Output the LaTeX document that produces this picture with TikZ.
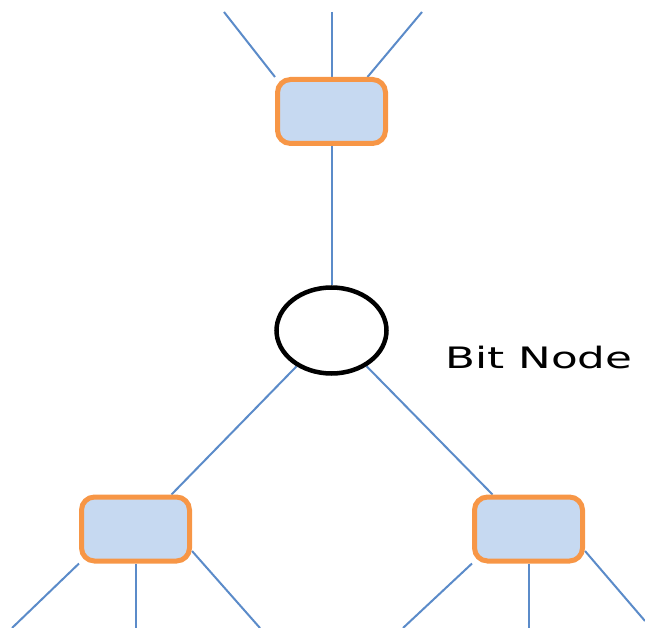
\documentclass[tikz,border=0pt]{standalone}
\usepackage{fontspec}
\setsansfont{DejaVu Sans}
\usetikzlibrary{calc,backgrounds,shapes.geometric}
\definecolor{link}{HTML}{5B8BC9}
\definecolor{checkfill}{HTML}{C6D9F1}
\definecolor{checkedge}{HTML}{F79646}

\begin{document}
\begin{tikzpicture}[x=1pt,y=-1pt,
  every node/.style={font=\sffamily,inner sep=0pt},
  check/.style={draw=checkedge,fill=checkfill,line width=5pt,
    rounded corners=13pt,minimum width=108pt,minimum height=64pt},
  bitnode/.style={ellipse,draw=black,line width=4.5pt,
    minimum width=110pt,minimum height=86pt},
  link/.style={draw=link,line width=2pt},
  label/.style={font=\sffamily\fontsize{29.5}{29.5}\selectfont,anchor=base west}]

% Page is 645 x 628 units, y grows downward.
\useasboundingbox (0,0) rectangle (645,628);

% -------------------------------------------------------------------------
% Check nodes and the bit node between them.
% -------------------------------------------------------------------------
\node[check]   (top)   at (331.5,111.5) {};
\node[bitnode] (bit)   at (331.5,330.5) {};
\node[check]   (left)  at (135.5,529) {};
\node[check]   (right) at (528.5,529) {};
\node[label,xscale=1.48] (name) at (445,368) {Bit Node};

% Loose ends of the edges leaving the picture.
\coordinate (t1) at (224,12);
\coordinate (t2) at (top.north |- 0,12);
\coordinate (t3) at (422,12);
\coordinate (l1) at (12,628);
\coordinate (l2) at (left.south |- 0,628);
\coordinate (l3) at (260,628);
\coordinate (r1) at (403,628);
\coordinate (r2) at (right.south |- 0,628);
\coordinate (r3) at (645,621);

% -------------------------------------------------------------------------
% Edges, kept behind the nodes.
% -------------------------------------------------------------------------
\begin{scope}[on background layer]
  \draw[link] (t1) -- (top.north west);
  \draw[link] (t2) -- (top.north);
  \draw[link] (t3) -- ($(top.north)+(36,0)$);
  \draw[link] (top) -- (bit);
  \draw[link] (bit) -- ($(left.north)+(36,0)$);
  \draw[link] (bit) -- ($(right.north)+(-36,0)$);
  \draw[link] (left.south west) -- (l1);
  \draw[link] (left.south) -- (l2);
  \draw[link] ($(left.east)+(0,22)$) -- (l3);
  \draw[link] (right.south west) -- (r1);
  \draw[link] (right.south) -- (r2);
  \draw[link] ($(right.east)+(0,22)$) -- (r3);
\end{scope}
\end{tikzpicture}
\end{document}
